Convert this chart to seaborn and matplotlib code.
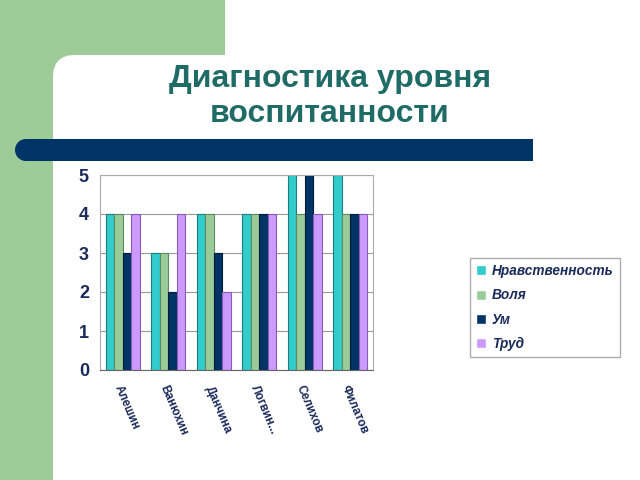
import matplotlib
matplotlib.use("Agg")
import matplotlib.pyplot as plt
import seaborn as sns
import pandas as pd
from matplotlib.patches import Rectangle, FancyBboxPatch, Circle

students = ["Алешин", "Ванюхин", "Данчина", "Логвин...", "Селихов", "Филатов"]
series = ["Нравственность", "Воля", "Ум", "Труд"]
morality = [4, 3, 4, 4, 5, 5]
will = [4, 3, 4, 4, 4, 4]
mind = [3, 2, 3, 4, 5, 4]
work = [4, 4, 2, 4, 4, 4]
colors = ["#33CCCC", "#99CC99", "#003366", "#CC99FF"]
edges = ["#1E7F7F", "#5E8A5E", "#001A33", "#8A5CB8"]

rows = []
for s, vals in zip(series, [morality, will, mind, work]):
    for st, v in zip(students, vals):
        rows.append({"student": st, "series": s, "value": v})
df = pd.DataFrame(rows)

sns.set_theme(style="white")
plt.rcParams['font.family'] = ['Liberation Sans', 'DejaVu Sans']

fig = plt.figure(figsize=(6.4, 4.8), dpi=100)
fig.patch.set_facecolor("white")

# background decoration
bg = fig.add_axes([0, 0, 1, 1], zorder=0)
bg.set_xlim(0, 640)
bg.set_ylim(480, 0)
bg.axis("off")
green = "#9ECC98"
bg.add_patch(Rectangle((0, 0), 225, 480, color=green, lw=0))
bg.add_patch(FancyBboxPatch((53, 55), 700, 500, boxstyle="round,pad=0,rounding_size=22",
                            fc="white", ec="none", lw=0))
navy = "#003366"
bg.add_patch(Circle((26, 150), 11, color=navy, lw=0))
bg.add_patch(Rectangle((26, 139), 507, 22, color=navy, lw=0))
bg.text(330, 79, "Диагностика уровня", ha="center", va="center", fontsize=23,
        fontweight="bold", color="#1F6B66")
bg.text(330, 114, "воспитанности", ha="center", va="center", fontsize=23,
        fontweight="bold", color="#1F6B66")

ax = fig.add_axes([100/640, 1 - 370/480, 273/640, 195/480], zorder=1)
sns.barplot(data=df, x="student", y="value", hue="series", palette=colors,
            width=0.75, ax=ax, saturation=1, legend=True)
for i, cont in enumerate(ax.containers):
    for bar in cont:
        bar.set_edgecolor(edges[i])
        bar.set_linewidth(0.8)

ax.set_ylim(0, 5)
ax.set_yticks(range(6))
ax.set_yticklabels([str(i) for i in range(6)], fontsize=13, fontweight="heavy", color="#1A2A5A")
ax.yaxis.grid(True, color="#999999", lw=0.8)
ax.set_axisbelow(True)
ax.set_xlabel("")
ax.set_ylabel("")
for sp in ax.spines.values():
    sp.set_color("#AAAAAA")
    sp.set_linewidth(0.8)
ax.spines["bottom"].set_color("#666666")
ax.tick_params(axis="y", length=3, color="#666666", pad=5)
ax.tick_params(axis="x", length=0, pad=10)
ax.set_xticks(range(len(students)))
ax.set_xticklabels(students, rotation=-67, ha="left", va="top", rotation_mode="anchor",
                   fontsize=8.5, fontweight="heavy", color="#1A2A5A")

handles, labels = ax.get_legend_handles_labels()
ax.get_legend().remove()
leg = fig.legend(handles, labels, loc="upper left", bbox_to_anchor=(470/640, 1 - 258/480),
                 frameon=True, fancybox=False, edgecolor="#999999",
                 prop={"weight": "bold", "style": "italic", "size": 9.8},
                 handlelength=0.75, handleheight=0.75, handletextpad=0.4,
                 labelspacing=0.75, borderpad=0.45, borderaxespad=0)
for t in leg.get_texts():
    t.set_color("#1A2A5A")

fig.savefig("out.png", dpi=100)
